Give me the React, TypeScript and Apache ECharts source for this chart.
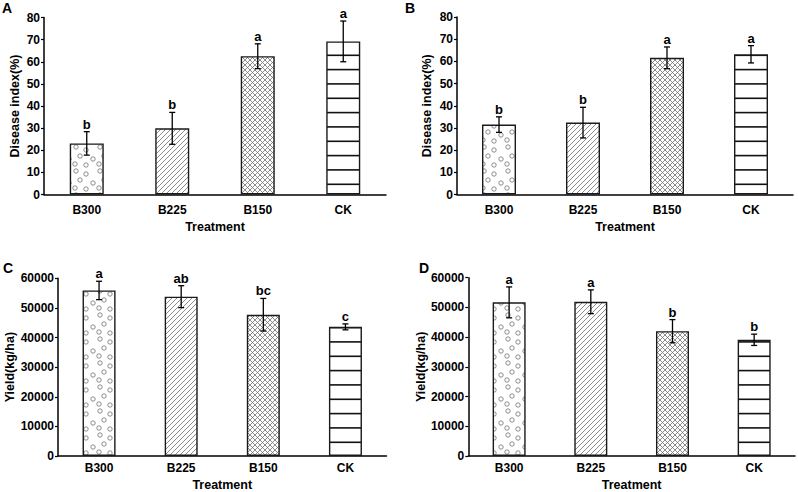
import React, { useEffect, useRef } from 'react';
import * as echarts from 'echarts';

const categories = ['B300', 'B225', 'B150', 'CK'];

const diseaseA = [23.1, 29.9, 62.5, 69.2];
const diseaseAErr = [5.3, 7.2, 5.6, 9.2];
const lettersA = ['b', 'b', 'a', 'a'];

const diseaseB = [31.5, 32.4, 61.6, 63.2];
const diseaseBErr = [3.5, 6.9, 4.9, 3.9];
const lettersB = ['b', 'b', 'a', 'a'];

const yieldC = [55900, 53800, 47700, 43600];
const yieldCErr = [3100, 3700, 5500, 1000];
const lettersC = ['a', 'ab', 'bc', 'c'];

const yieldD = [51700, 51900, 42000, 39100];
const yieldDErr = [5200, 4000, 3900, 1900];
const lettersD = ['a', 'a', 'b', 'b'];

const panelLabels = ['A', 'B', 'C', 'D'];
const diseaseAxis = { max: 80, interval: 10, name: 'Disease index(%)' };
const yieldAxis = { max: 60000, interval: 10000, name: 'Yield(kg/ha)' };
const xName = 'Treatment';

const FONT = '"Liberation Sans", Arial, Helvetica, sans-serif';

function makeCanvas(w: number, h: number, draw: (ctx: CanvasRenderingContext2D) => void) {
  const c = document.createElement('canvas');
  c.width = w;
  c.height = h;
  const ctx = c.getContext('2d')!;
  ctx.fillStyle = '#ffffff';
  ctx.fillRect(0, 0, w, h);
  draw(ctx);
  return c;
}

function buildPatterns() {
  const dots = makeCanvas(24, 24, (ctx) => {
    ctx.strokeStyle = '#7a7a7a';
    ctx.lineWidth = 0.85;
    const pts = [[4, 3], [14, 6], [21, 15], [8, 12], [3, 20], [14, 21]];
    pts.forEach(([x, y]) => {
      ctx.beginPath();
      ctx.arc(x, y, 2.2, 0, Math.PI * 2);
      ctx.stroke();
    });
  });
  const s = 5;
  const diag = makeCanvas(s, s, (ctx) => {
    ctx.strokeStyle = '#6e6e6e';
    ctx.lineWidth = 0.8;
    ctx.beginPath();
    ctx.moveTo(0, s); ctx.lineTo(s, 0);
    ctx.moveTo(-1, 1); ctx.lineTo(1, -1);
    ctx.moveTo(s - 1, s + 1); ctx.lineTo(s + 1, s - 1);
    ctx.stroke();
  });
  const cross = makeCanvas(s, s, (ctx) => {
    ctx.strokeStyle = '#707070';
    ctx.lineWidth = 0.8;
    ctx.beginPath();
    ctx.moveTo(0, s); ctx.lineTo(s, 0);
    ctx.moveTo(-1, 1); ctx.lineTo(1, -1);
    ctx.moveTo(s - 1, s + 1); ctx.lineTo(s + 1, s - 1);
    ctx.moveTo(0, 0); ctx.lineTo(s, s);
    ctx.moveTo(-1, s - 1); ctx.lineTo(1, s + 1);
    ctx.moveTo(s - 1, -1); ctx.lineTo(s + 1, 1);
    ctx.stroke();
  });
  const horiz = makeCanvas(4, 43, (ctx) => {
    ctx.strokeStyle = '#111111';
    ctx.lineWidth = 1.6;
    [12.3, 26.6, 40.9].forEach((y) => {
      ctx.beginPath();
      ctx.moveTo(0, y); ctx.lineTo(4, y);
      ctx.stroke();
    });
  });
  return [dots, diag, cross, horiz].map((img) => ({ image: img, repeat: 'repeat' }));
}

export default function App() {
  const ref = useRef<HTMLDivElement>(null);

  useEffect(() => {
    if (!ref.current) return;
    const chart = echarts.init(ref.current, undefined, { renderer: 'svg' });
    const patterns = buildPatterns();

    const panels = [
      { vals: diseaseA, err: diseaseAErr, letters: lettersA, axis: diseaseAxis,
        grid: { left: 44, top: 17.5, width: 342, height: 177 }, yGap: 23, xGap: 26, lblMargin: 9, barWidth: 34,
        label: { x: 2, y: 1 } },
      { vals: diseaseB, err: diseaseBErr, letters: lettersB, axis: diseaseAxis,
        grid: { left: 457, top: 17, width: 336, height: 177.5 }, yGap: 24, xGap: 26, lblMargin: 9, barWidth: 34,
        label: { x: 405, y: 1 } },
      { vals: yieldC, err: yieldCErr, letters: lettersC, axis: yieldAxis,
        grid: { left: 58, top: 278.3, width: 328.5, height: 179 }, yGap: 34, xGap: 22, lblMargin: 6, barWidth: 33,
        label: { x: 3, y: 261 } },
      { vals: yieldD, err: yieldDErr, letters: lettersD, axis: yieldAxis,
        grid: { left: 468.3, top: 277.7, width: 326.7, height: 179.6 }, yGap: 33, xGap: 22, lblMargin: 6, barWidth: 33,
        label: { x: 419, y: 261 } },
    ];

    const grid = panels.map((p) => ({ ...p.grid, containLabel: false }));
    const xAxis = panels.map((p, i) => ({
      gridIndex: i,
      type: 'category',
      data: categories,
      axisLine: { lineStyle: { color: '#000', width: 1.5 } },
      axisTick: { show: false },
      axisLabel: { color: '#000', fontWeight: 'bold', fontSize: 12, fontFamily: FONT, margin: p.lblMargin },
      name: xName,
      nameLocation: 'middle',
      nameGap: p.xGap,
      nameTextStyle: { color: '#000', fontWeight: 'bold', fontSize: 12.5, fontFamily: FONT },
    }));
    const yAxis = panels.map((p, i) => ({
      gridIndex: i,
      type: 'value',
      min: 0,
      max: p.axis.max,
      interval: p.axis.interval,
      axisLine: { show: true, lineStyle: { color: '#000', width: 1.5 } },
      axisTick: { show: true, length: 3, lineStyle: { color: '#000', width: 1.2 } },
      splitLine: { show: false },
      axisLabel: {
        color: '#000', fontWeight: 'bold', fontSize: 12, fontFamily: FONT, margin: 4,
        formatter: (v: number) => String(v),
      },
      name: p.axis.name,
      nameLocation: 'middle',
      nameGap: p.yGap,
      nameTextStyle: { color: '#000', fontWeight: 'bold', fontSize: 12.5, fontFamily: FONT },
    }));

    const series: any[] = [];
    panels.forEach((p, i) => {
      series.push({
        type: 'bar',
        xAxisIndex: i,
        yAxisIndex: i,
        barWidth: p.barWidth,
        data: p.vals.map((v, k) => ({
          value: v,
          itemStyle: { color: patterns[k], borderColor: '#1a1a1a', borderWidth: 1.4 },
        })),
        z: 2,
      });
      series.push({
        type: 'custom',
        xAxisIndex: i,
        yAxisIndex: i,
        z: 5,
        data: p.vals.map((v, k) => [k, v - p.err[k], v + p.err[k]]),
        renderItem: (params: any, api: any) => {
          const lo = api.coord([api.value(0), api.value(1)]);
          const hi = api.coord([api.value(0), api.value(2)]);
          const x = lo[0];
          const cap = 3;
          const st = { stroke: '#000', lineWidth: 1.3 };
          return {
            type: 'group',
            children: [
              { type: 'line', shape: { x1: x, y1: lo[1], x2: x, y2: hi[1] }, style: st },
              { type: 'line', shape: { x1: x - cap, y1: lo[1], x2: x + cap, y2: lo[1] }, style: st },
              { type: 'line', shape: { x1: x - cap, y1: hi[1], x2: x + cap, y2: hi[1] }, style: st },
              {
                type: 'text',
                style: {
                  text: p.letters[params.dataIndex],
                  x,
                  y: hi[1] - 1,
                  align: 'center',
                  verticalAlign: 'bottom',
                  fill: '#000',
                  font: `bold 13px ${FONT}`,
                },
              },
            ],
          };
        },
      });
    });

    const graphic = panels.map((p, i) => ({
      type: 'text',
      left: p.label.x,
      top: p.label.y,
      style: { text: panelLabels[i], fill: '#000', font: `bold 14px ${FONT}` },
    }));

    chart.setOption({
      animation: false,
      backgroundColor: '#ffffff',
      grid,
      xAxis,
      yAxis,
      series,
      graphic,
    });

    return () => chart.dispose();
  }, []);

  return (
    <div
      ref={ref}
      style={{ position: 'absolute', left: 0, top: 0, width: 798, height: 492 }}
    />
  );
}
